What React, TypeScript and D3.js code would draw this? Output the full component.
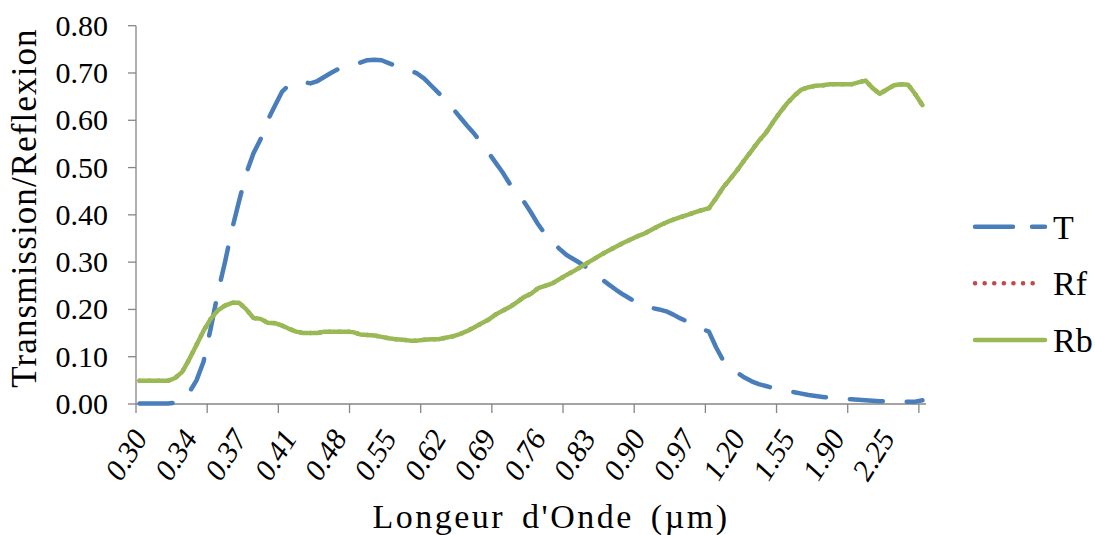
import * as d3 from 'd3';

const WIDTH = 1095;
const HEIGHT = 535;
const MARGIN = { top: 25.7, right: 170, bottom: 131, left: 136 };

const color = {
  T: '#4a7ebb',
  Rf: '#be4b48',
  Rb: '#98b954',
  axis: '#868686',
  text: '#000000',
};

// wavelengths (µm), one category each
const wavelengths = [
  0.3, 0.305, 0.31, 0.315, 0.32, 0.325, 0.33, 0.335, 0.34, 0.345, 0.35, 0.355, 0.36, 0.365, 0.37, 0.375,
  0.38, 0.385, 0.39, 0.395, 0.4, 0.41, 0.42, 0.43, 0.44, 0.45, 0.46, 0.47, 0.48, 0.49, 0.5, 0.51, 0.52,
  0.53, 0.54, 0.55, 0.56, 0.57, 0.58, 0.59, 0.6, 0.61, 0.62, 0.63, 0.64, 0.65, 0.66, 0.67, 0.68, 0.69,
  0.7, 0.71, 0.72, 0.73, 0.74, 0.75, 0.76, 0.77, 0.78, 0.79, 0.8, 0.81, 0.82, 0.83, 0.84, 0.85, 0.86,
  0.87, 0.88, 0.89, 0.9, 0.91, 0.92, 0.93, 0.94, 0.95, 0.96, 0.97, 0.98, 0.99, 1.0, 1.05, 1.1, 1.15, 1.2,
  1.25, 1.3, 1.35, 1.4, 1.45, 1.5, 1.55, 1.6, 1.65, 1.7, 1.75, 1.8, 1.85, 1.9, 1.95, 2.0, 2.05, 2.1, 2.15,
  2.2, 2.25, 2.3, 2.35, 2.4, 2.45, 2.5,
];

const xLabels = [
  '0.30', '0.34', '0.37', '0.41', '0.48', '0.55', '0.62', '0.69', '0.76', '0.83', '0.90', '0.97', '1.20',
  '1.55', '1.90', '2.25',
];
const labelEvery = 7;
const tickEvery = 10;

const yTicks = [0, 0.1, 0.2, 0.3, 0.4, 0.5, 0.6, 0.7, 0.8];

const tValues = [
  0.001, 0.001, 0.001, 0.001, 0.001, 0.003, 0.01, 0.025, 0.05, 0.09, 0.16, 0.235, 0.3, 0.37, 0.43, 0.488,
  0.53, 0.56, 0.6, 0.63, 0.66, 0.675, 0.681, 0.681, 0.678, 0.683, 0.692, 0.701, 0.709, 0.714, 0.719, 0.722,
  0.727, 0.728, 0.727, 0.721, 0.715, 0.709, 0.705, 0.699, 0.688, 0.673, 0.658, 0.642, 0.625, 0.607, 0.589,
  0.572, 0.552, 0.532, 0.511, 0.49, 0.466, 0.448, 0.428, 0.405, 0.38, 0.359, 0.343, 0.328, 0.315, 0.306,
  0.297, 0.287, 0.274, 0.263, 0.252, 0.241, 0.231, 0.222, 0.213, 0.208, 0.203, 0.2, 0.196, 0.189, 0.181,
  0.174, 0.166, 0.159, 0.153, 0.12, 0.092, 0.076, 0.066, 0.056, 0.048, 0.042, 0.038, 0.034, 0.031, 0.028,
  0.025, 0.022, 0.019, 0.017, 0.015, 0.013, 0.012, 0.011, 0.01, 0.009, 0.008, 0.007, 0.006, 0.005, 0.004,
  0.004, 0.005, 0.005, 0.008,
];

const rbValues = [
  0.049, 0.049, 0.049, 0.049, 0.049, 0.055, 0.068, 0.095, 0.125, 0.155, 0.18, 0.198, 0.208, 0.214, 0.214,
  0.2, 0.182, 0.18, 0.172, 0.171, 0.166, 0.159, 0.153, 0.15, 0.15, 0.15, 0.153, 0.153, 0.153, 0.153, 0.152,
  0.147, 0.146, 0.145, 0.142, 0.139, 0.137, 0.136, 0.134, 0.134, 0.136, 0.137, 0.137, 0.14, 0.143, 0.148,
  0.154, 0.162, 0.17, 0.178, 0.189, 0.197, 0.205, 0.215, 0.226, 0.233, 0.245, 0.25, 0.255, 0.264, 0.273,
  0.281, 0.29, 0.299, 0.308, 0.317, 0.325, 0.333, 0.341, 0.348, 0.355, 0.361, 0.369, 0.377, 0.384, 0.39,
  0.395, 0.4, 0.405, 0.41, 0.414, 0.435, 0.458, 0.476, 0.495, 0.516, 0.536, 0.556, 0.573, 0.596, 0.617,
  0.636, 0.652, 0.665, 0.67, 0.673, 0.674, 0.676, 0.676, 0.676, 0.676, 0.68, 0.684, 0.668, 0.656, 0.665,
  0.674, 0.676, 0.675, 0.655, 0.632,
];

// Rf coincides with Rb and is hidden under it
const rfValues = rbValues;

const series = [
  { name: 'T', values: tValues, stroke: color.T, dash: '33 24' },
  { name: 'Rf', values: rfValues, stroke: color.Rf, dash: '0.1 9.5' },
  { name: 'Rb', values: rbValues, stroke: color.Rb, dash: null },
];

const font = (size: number, italic = false) => ({
  font: `${italic ? 'italic ' : ''}${size}px "Liberation Serif"`,
});

const App = () => {
  const plotRight = WIDTH - MARGIN.right + 1;
  const plotBottom = HEIGHT - MARGIN.bottom;

  const xScale = d3
    .scaleBand<number>()
    .domain(d3.range(wavelengths.length))
    .range([MARGIN.left, plotRight])
    .paddingInner(0)
    .paddingOuter(0);
  const bw = xScale.bandwidth();
  const xc = (i: number) => (xScale(i) ?? 0) + bw / 2;

  const yScale = d3.scaleLinear().domain([0, 0.8]).range([plotBottom, MARGIN.top]);

  const line = d3
    .line<number>()
    .curve(d3.curveLinear)
    .x((_, i) => xc(i))
    .y(d => yScale(d));

  const tickIdx = d3.range(wavelengths.length).filter(i => i % tickEvery === 0);
  const labelIdx = d3.range(wavelengths.length).filter(i => i % labelEvery === 0);

  const legendX = 975;
  const legendY = [226.7, 283.3, 340];

  return (
    <svg width={WIDTH} height={HEIGHT} style={{ position: 'absolute', left: 0, top: 0 }}>
      {/* y tick labels */}
      {yTicks.map(t => (
        <text key={t} x={108} y={yScale(t) + 10} textAnchor="end" fill={color.text} style={font(30)}>
          {d3.format('.2f')(t)}
        </text>
      ))}

      {/* x tick labels */}
      {labelIdx.map((i, k) => (
        <text
          key={i}
          transform={`translate(${xc(i) + 9},${plotBottom + 34}) rotate(-58)`}
          textAnchor="end"
          fill={color.text}
          style={font(30, true)}
        >
          {xLabels[k]}
        </text>
      ))}

      {/* titles */}
      <text
        x={551}
        y={528}
        textAnchor="middle"
        fill={color.text}
        letterSpacing={2.5}
        wordSpacing={6}
        style={font(34)}
      >
        Longeur d'Onde (µm)
      </text>
      <text
        transform={`translate(36,208) rotate(-90)`}
        textAnchor="middle"
        fill={color.text}
        letterSpacing={1.1}
        style={font(35)}
      >
        Transmission/Reflexion
      </text>

      {/* legend labels */}
      {series.map((s, k) => (
        <text key={s.name} x={1053} y={legendY[k] + 12} fill={color.text} style={font(34)}>
          {s.name}
        </text>
      ))}

      {/* y axis */}
      <line x1={MARGIN.left} x2={MARGIN.left} y1={MARGIN.top} y2={plotBottom} stroke={color.axis} strokeWidth={1.3} />
      {yTicks.map(t => (
        <line
          key={t}
          x1={MARGIN.left - 8}
          x2={MARGIN.left}
          y1={yScale(t)}
          y2={yScale(t)}
          stroke={color.axis}
          strokeWidth={1.3}
        />
      ))}

      {/* x axis */}
      <line x1={MARGIN.left} x2={plotRight} y1={plotBottom} y2={plotBottom} stroke={color.axis} strokeWidth={1.3} />
      {tickIdx.map(i => (
        <line
          key={i}
          x1={xScale(i)}
          x2={xScale(i)}
          y1={plotBottom}
          y2={plotBottom + 9}
          stroke={color.axis}
          strokeWidth={1.3}
        />
      ))}

      {/* series */}
      {series.map(s => (
        <path
          key={s.name}
          d={line(s.values) ?? ''}
          fill="none"
          stroke={s.stroke}
          strokeWidth={4.5}
          strokeLinejoin="round"
          strokeLinecap="round"
          strokeDasharray={s.dash ?? undefined}
        />
      ))}

      {/* legend lines */}
      {series.map((s, k) => (
        <line
          key={s.name}
          x1={legendX}
          x2={legendX + (s.name === 'Rf' ? 65 : 70)}
          y1={legendY[k]}
          y2={legendY[k]}
          stroke={s.stroke}
          strokeWidth={4.5}
          strokeLinecap="round"
          strokeDasharray={s.name === 'T' ? '38 19' : s.dash ?? undefined}
        />
      ))}
    </svg>
  );
};

export default App;
